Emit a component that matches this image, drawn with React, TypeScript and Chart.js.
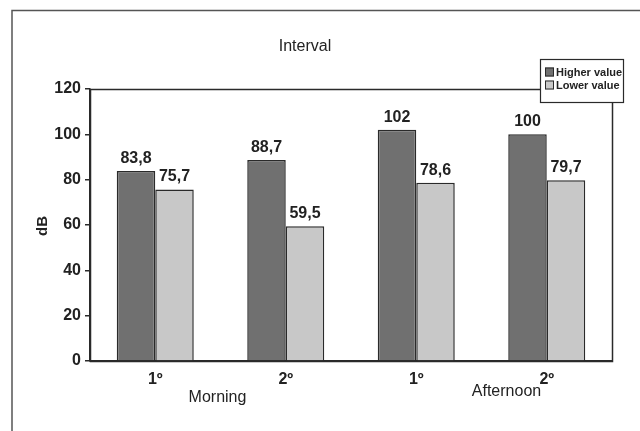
import React, { useEffect, useRef } from "react";
import { Chart, registerables } from "chart.js";

Chart.register(...registerables);

const categories = ["1º", "2º", "1º", "2º"];
const higherValues = [83.8, 88.7, 102, 100];
const lowerValues = [75.7, 59.5, 78.6, 79.7];
const seriesNames = ["Higher value", "Lower value"];
const seriesColors = ["#707070", "#c8c8c8"];
const groupLabels = ["Morning", "Afternoon"];
const chartTitle = "Interval";
const yTitle = "dB";
const yMin = 0;
const yMax = 120;
const yStep = 20;

const FONT = "'Liberation Sans', Arial, sans-serif";
const INK = "#222";
const LINE = "#2a2a2a";

const fmt = (v: number) => String(v).replace(".", ",");

const decorPlugin = {
  id: "decor",
  beforeDraw(chart: any) {
    const ctx = chart.ctx;
    ctx.save();
    ctx.fillStyle = "#fff";
    ctx.fillRect(0, 0, chart.width, chart.height);
    // outer frame (top and left)
    ctx.strokeStyle = "#555";
    ctx.lineWidth = 1.5;
    ctx.beginPath();
    ctx.moveTo(12, chart.height);
    ctx.lineTo(12, 10.5);
    ctx.lineTo(chart.width, 10.5);
    ctx.stroke();
    ctx.restore();
  },
  afterDatasetsDraw(chart: any) {
    const ctx = chart.ctx;
    ctx.save();
    ctx.font = `bold 16px ${FONT}`;
    ctx.fillStyle = INK;
    ctx.textAlign = "center";
    ctx.textBaseline = "alphabetic";
    chart.data.datasets.forEach((ds: any, i: number) => {
      const meta = chart.getDatasetMeta(i);
      meta.data.forEach((bar: any, j: number) => {
        ctx.fillText(fmt(ds.data[j]), bar.x, bar.y - 8);
      });
    });
    ctx.restore();
  },
  afterDraw(chart: any) {
    const ctx = chart.ctx;
    const a = chart.chartArea;
    const xs = chart.scales.x;
    ctx.save();
    // plot border
    ctx.strokeStyle = LINE;
    ctx.lineWidth = 1.5;
    ctx.strokeRect(Math.round(a.left) + 0.5, Math.round(a.top) + 0.5, Math.round(a.right - a.left), Math.round(a.bottom - a.top));
    // title
    ctx.fillStyle = INK;
    ctx.font = `16px ${FONT}`;
    ctx.textAlign = "center";
    ctx.textBaseline = "middle";
    ctx.fillText(chartTitle, 305, 47);
    // y title
    ctx.save();
    ctx.translate(43, 226);
    ctx.rotate(-Math.PI / 2);
    ctx.font = `bold 15px ${FONT}`;
    ctx.fillText(yTitle, 0, 0);
    ctx.restore();
    // group labels
    ctx.font = `16px ${FONT}`;
    const m = (xs.getPixelForValue(0) + xs.getPixelForValue(1)) / 2 - 3;
    ctx.fillText(groupLabels[0], m, a.bottom + 37);
    const af = (xs.getPixelForValue(2) + xs.getPixelForValue(3)) / 2 + 25;
    ctx.fillText(groupLabels[1], af, a.bottom + 31);
    // legend
    const lx = 540, ly = 59, lw = 83, lh = 43;
    ctx.fillStyle = "#fff";
    ctx.fillRect(lx, ly, lw, lh);
    ctx.strokeStyle = LINE;
    ctx.lineWidth = 1.2;
    ctx.strokeRect(lx + 0.5, ly + 0.5, lw, lh);
    ctx.font = `bold 11px ${FONT}`;
    ctx.textAlign = "left";
    seriesNames.forEach((name, i) => {
      const cy = ly + 13 + i * 13;
      ctx.fillStyle = seriesColors[i];
      ctx.fillRect(lx + 5, cy - 4.5, 9, 9);
      ctx.strokeStyle = LINE;
      ctx.lineWidth = 1;
      ctx.strokeRect(lx + 5.5, cy - 4, 8, 8);
      ctx.fillStyle = INK;
      ctx.fillText(name, lx + 16, cy + 0.5);
    });
    ctx.restore();
  },
};

export default function App() {
  const ref = useRef<HTMLCanvasElement>(null);
  useEffect(() => {
    if (!ref.current) return;
    const chart = new Chart(ref.current, {
      type: "bar",
      data: {
        labels: categories,
        datasets: [
          {
            label: seriesNames[0],
            data: higherValues,
            backgroundColor: seriesColors[0],
            borderColor: LINE,
            borderWidth: 1.5,
            categoryPercentage: 0.59,
            barPercentage: 1,
          },
          {
            label: seriesNames[1],
            data: lowerValues,
            backgroundColor: seriesColors[1],
            borderColor: LINE,
            borderWidth: 1.5,
            categoryPercentage: 0.59,
            barPercentage: 1,
          },
        ],
      },
      options: {
        responsive: false,
        animation: false,
        devicePixelRatio: 1,
        layout: { padding: { left: 0, top: 89, right: 28, bottom: 0 } },
        plugins: {
          legend: { display: false },
          title: { display: false },
          tooltip: { enabled: false },
        },
        scales: {
          x: {
            grid: { display: false },
            border: { display: true, color: LINE, width: 1.5 },
            ticks: { color: INK, font: { family: FONT, size: 16, weight: "bold" }, padding: 1 },
            afterFit: (s: any) => {
              s.height = 70;
            },
          },
          y: {
            min: yMin,
            max: yMax,
            ticks: { stepSize: yStep, color: INK, font: { family: FONT, size: 16, weight: "bold" }, padding: 4 },
            grid: { drawOnChartArea: false, drawTicks: true, tickLength: 5, color: LINE, lineWidth: 1.5 },
            border: { display: true, color: LINE, width: 1.5 },
            afterFit: (s: any) => {
              s.width = 90;
            },
          },
        },
      },
      plugins: [decorPlugin],
    });
    return () => chart.destroy();
  }, []);
  return (
    <div style={{ position: "absolute", left: 0, top: 0, width: 640, height: 431, background: "#fff" }}>
      <canvas ref={ref} width={640} height={431} />
    </div>
  );
}
